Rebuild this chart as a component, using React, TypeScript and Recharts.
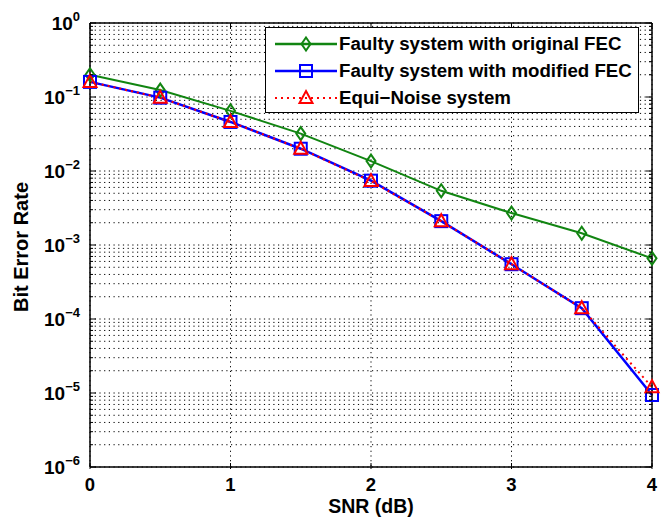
import React from "react";
import {
  CartesianGrid,
  Legend,
  Line,
  LineChart,
  XAxis,
  YAxis,
} from "recharts";

// BER curves, one value per SNR step
const snr = [0, 0.5, 1, 1.5, 2, 2.5, 3, 3.5, 4];
const berOriginalFec = [0.2, 0.124, 0.065, 0.032, 0.0136, 0.0054, 0.0027, 0.00144, 0.00066];
const berModifiedFec = [0.16, 0.098, 0.046, 0.02, 0.0074, 0.0021, 0.00055, 0.00014, 0.0000094];
const berEquiNoise = [0.16, 0.098, 0.046, 0.02, 0.0073, 0.0021, 0.00055, 0.00014, 0.000012];

const xTicks = [0, 1, 2, 3, 4];
const decades = [-6, -5, -4, -3, -2, -1];

// log axis ticks: 1..9 x 10^k, plus 10^0
const yTicks: number[] = [];
for (const k of decades) {
  for (let m = 1; m <= 9; m++) yTicks.push(Number((m * Math.pow(10, k)).toPrecision(3)));
}
yTicks.push(1);

const data = snr.map((s, i) => ({
  snr: s,
  original: berOriginalFec[i],
  modified: berModifiedFec[i],
  equi: berEquiNoise[i],
}));

const FONT = '"Liberation Sans", Arial, Helvetica, sans-serif';
const GREEN = "#118511";
const BLUE = "#0000ff";
const RED = "#ff0000";

const isDecade = (v: number) => {
  const e = Math.log10(v);
  return Math.abs(e - Math.round(e)) < 1e-6;
};

function LeftTick(props: any) {
  const { x, y, payload } = props;
  const v = payload.value as number;
  const major = isDecade(v);
  const k = Math.round(Math.log10(v));
  return (
    <g>
      <line x1={x} x2={x + (major ? 6 : 3)} y1={y} y2={y} stroke="#000" strokeWidth={1} />
      {major && (
        <text x={x - 10} y={y + 7} textAnchor="end" fontFamily={FONT} fontWeight="bold" fontSize={19} fill="#000">
          10
          <tspan dy={-9} fontSize={13}>{k === 0 ? "0" : "\u2212" + -k}</tspan>
        </text>
      )}
    </g>
  );
}

function RightTick(props: any) {
  const { x, y, payload } = props;
  const major = isDecade(payload.value);
  return <line x1={x} x2={x - (major ? 6 : 3)} y1={y} y2={y} stroke="#000" strokeWidth={1} />;
}

function BottomTick(props: any) {
  const { x, y, payload } = props;
  return (
    <g>
      <line x1={x} x2={x} y1={y} y2={y - 6} stroke="#000" strokeWidth={1} />
      <text x={x} y={y + 22} textAnchor="middle" fontFamily={FONT} fontWeight="bold" fontSize={18.5} fill="#000">
        {payload.value}
      </text>
    </g>
  );
}

function TopTick(props: any) {
  const { x, y } = props;
  return <line x1={x} x2={x} y1={y} y2={y + 6} stroke="#000" strokeWidth={1} />;
}

function Diamond(props: any) {
  const { cx, cy, index } = props;
  return (
    <path
      key={`d-${index}`}
      d={`M${cx},${cy - 6.5} L${cx + 4.5},${cy} L${cx},${cy + 6.5} L${cx - 4.5},${cy} Z`}
      fill="none"
      stroke={GREEN}
      strokeWidth={2}
    />
  );
}

function Square(props: any) {
  const { cx, cy, index } = props;
  return (
    <rect key={`s-${index}`} x={cx - 6} y={cy - 6} width={12} height={12} fill="none" stroke={BLUE} strokeWidth={2} />
  );
}

function Triangle(props: any) {
  const { cx, cy, index } = props;
  return (
    <path
      key={`t-${index}`}
      d={`M${cx},${cy - 7} L${cx + 6.5},${cy + 5} L${cx - 6.5},${cy + 5} Z`}
      fill="none"
      stroke={RED}
      strokeWidth={2}
    />
  );
}

const legendRows = [
  { name: "Faulty system with original FEC", color: GREEN, dash: undefined, marker: "d" },
  { name: "Faulty system with modified FEC", color: BLUE, dash: undefined, marker: "s" },
  { name: "Equi\u2212Noise system", color: RED, dash: "2 4", marker: "t" },
];

function LegendBox() {
  return (
    <div
      style={{
        width: 372,
        height: 82,
        border: "1.5px solid #000",
        background: "#fff",
        paddingTop: 2,
        boxSizing: "content-box",
        fontFamily: FONT,
        fontWeight: "bold",
        fontSize: 18.7,
        color: "#000",
      }}
    >
      {legendRows.map((r) => (
        <div key={r.name} style={{ height: 27, display: "flex", alignItems: "center" }}>
          <svg width={73} height={20} style={{ flex: "none" }}>
            <line x1={9} x2={71} y1={10} y2={10} stroke={r.color} strokeWidth={r.dash ? 2 : 2.5} strokeDasharray={r.dash} />
            {r.marker === "d" && <Diamond cx={40} cy={10} index={0} />}
            {r.marker === "s" && <Square cx={40} cy={10} index={0} />}
            {r.marker === "t" && <Triangle cx={40} cy={10} index={0} />}
          </svg>
          <span style={{ whiteSpace: "nowrap" }}>{r.name}</span>
        </div>
      ))}
    </div>
  );
}

export default function App() {
  return (
    <div style={{ position: "absolute", left: 0, top: 0, width: 668, height: 517, background: "#fff" }}>
      <LineChart width={668} height={517} data={data} margin={{ top: 22, right: 15, bottom: 0, left: 30 }}>
        <CartesianGrid stroke="#000" strokeWidth={1} strokeDasharray="1.2 3.5" />
        <XAxis
          dataKey="snr"
          type="number"
          domain={[0, 4]}
          ticks={xTicks}
          height={50}
          tickSize={0}
          tickLine={false}
          tick={<BottomTick />}
          axisLine={{ stroke: "#000", strokeWidth: 1.5 }}
          label={{
            value: "SNR (dB)",
            position: "insideBottom",
            offset: 4,
            style: { fontFamily: FONT, fontWeight: "bold", fontSize: 19.5, fill: "#000" },
          }}
        />
        <XAxis
          xAxisId="t"
          dataKey="snr"
          type="number"
          orientation="top"
          domain={[0, 4]}
          ticks={xTicks}
          height={1}
          tickSize={0}
          tickMargin={0}
          tickLine={false}
          tick={<TopTick />}
          axisLine={{ stroke: "#000", strokeWidth: 1.5 }}
        />
        <YAxis
          type="number"
          scale="log"
          domain={[1e-6, 1]}
          allowDataOverflow
          ticks={yTicks}
          interval={0}
          width={60}
          tickSize={0}
          tickMargin={0}
          tickLine={false}
          tick={<LeftTick />}
          axisLine={{ stroke: "#000", strokeWidth: 1.5 }}
          label={{
            value: "Bit Error Rate",
            content: ({ viewBox }: any) => {
              const cx = viewBox.x - 2;
              const cy = viewBox.y + viewBox.height / 2 + 2;
              return (
                <text
                  x={cx}
                  y={cy}
                  transform={`rotate(-90 ${cx} ${cy})`}
                  textAnchor="middle"
                  fontFamily={FONT}
                  fontWeight="bold"
                  fontSize={20}
                  fill="#000"
                >
                  Bit Error Rate
                </text>
              );
            },
          }}
        />
        <YAxis
          yAxisId="r"
          orientation="right"
          type="number"
          scale="log"
          domain={[1e-6, 1]}
          allowDataOverflow
          ticks={yTicks}
          interval={0}
          width={1}
          tickSize={0}
          tickMargin={0}
          tickLine={false}
          tick={<RightTick />}
          axisLine={{ stroke: "#000", strokeWidth: 1.5 }}
        />
        <Legend
          layout="vertical"
          align="center"
          verticalAlign="middle"
          wrapperStyle={{ left: 265, top: 27, width: 376 }}
          content={() => <LegendBox />}
        />
        <Line
          type="linear"
          dataKey="original"
          stroke={GREEN}
          strokeWidth={2}
          dot={(p: any) => <Diamond key={`d-${p.index}`} {...p} />}
          isAnimationActive={false}
        />
        <Line
          type="linear"
          dataKey="modified"
          stroke={BLUE}
          strokeWidth={2.5}
          dot={(p: any) => <Square key={`s-${p.index}`} {...p} />}
          isAnimationActive={false}
        />
        <Line
          type="linear"
          dataKey="equi"
          stroke={RED}
          strokeWidth={2}
          strokeDasharray="2 4"
          dot={(p: any) => <Triangle key={`t-${p.index}`} {...p} />}
          isAnimationActive={false}
        />
      </LineChart>
    </div>
  );
}
